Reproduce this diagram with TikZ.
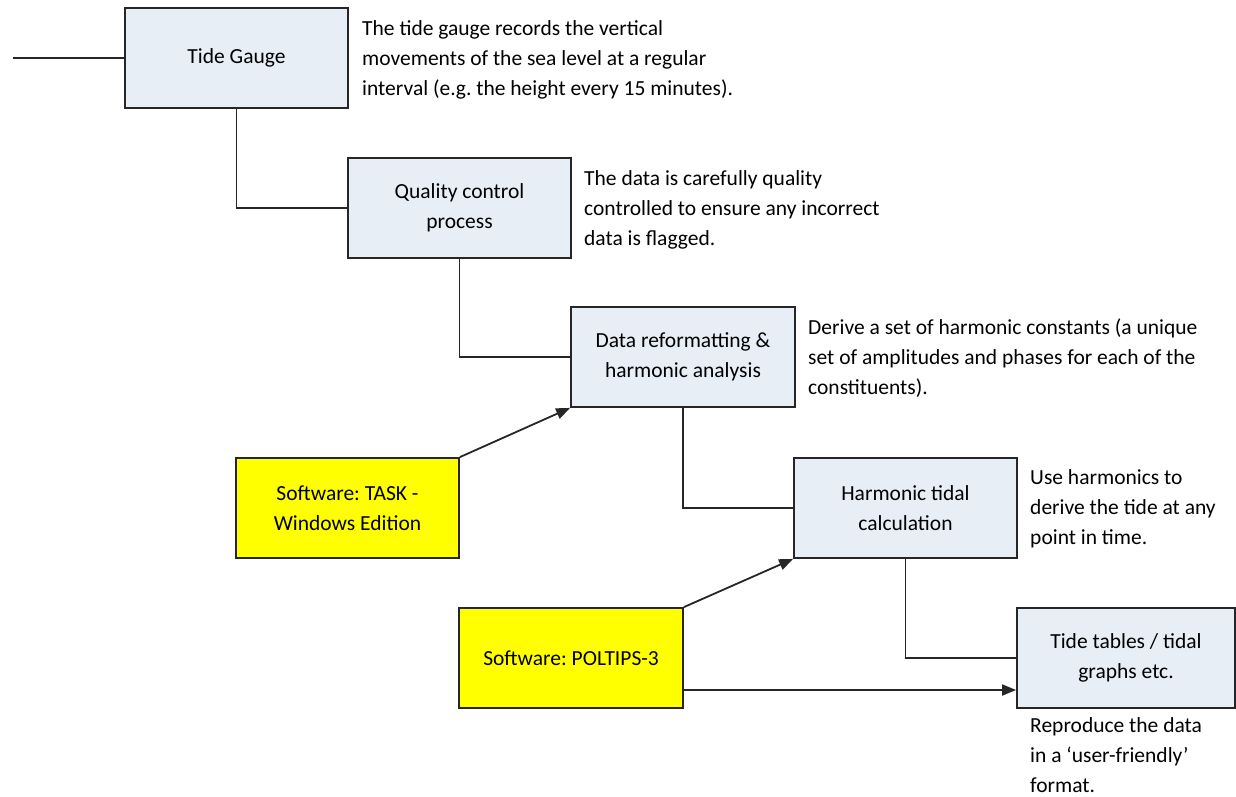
\documentclass[tikz,border=0pt]{standalone}
\usepackage{fontspec}
\setmainfont{Carlito}
\frenchspacing
\usetikzlibrary{arrows.meta}
\definecolor{boxblue}{HTML}{E7EEF6}
\definecolor{boxyellow}{HTML}{FFFF00}
\tikzset{
  procbox/.style={draw=black!85, line width=1.8pt, fill=boxblue, minimum width=223pt, minimum height=100pt, align=center, inner sep=0pt, font=\fontsize{21.5}{30}\selectfont},
  softbox/.style={procbox, fill=boxyellow},
  note/.style={anchor=north west, align=left, inner sep=0pt, font=\fontsize{21.5}{30}\selectfont},
  link/.style={draw=black!85, line width=1.8pt},
  arr/.style={link, -{Triangle[length=14pt,width=11pt]}}
}
\begin{document}
\frenchspacing
\begin{tikzpicture}[x=1pt,y=-1pt]
\useasboundingbox (0,0) rectangle (1236,796);
\node[procbox] (tg) at (236.5,58) {Tide Gauge};
\node[procbox] (qc) at (459.5,208) {Quality control\\process};
\node[procbox, minimum width=224pt] (dr) at (683,357) {Data reformatting \&\\harmonic analysis};
\node[procbox] (ht) at (905.5,508) {Harmonic tidal\\calculation};
\node[procbox, minimum width=218pt] (tt) at (1126,658) {Tide tables / tidal\\graphs etc.};
\node[softbox] (task) at (347.5,508) {Software: TASK -\\Windows Edition};
\node[softbox, minimum width=224pt] (pol) at (571,658) {Software: POLTIPS-3};
\coordinate (start) at (13,58);

\node[note] (n1) at (362,20) {The tide gauge records the vertical\\movements of the sea level at a regular\\interval (e.g. the height every 15 minutes).};
\node[note] (n2) at (584,170) {The data is carefully quality\\controlled to ensure any incorrect\\data is flagged.};
\node[note] (n3) at (808,319) {Derive a set of harmonic constants (a unique\\set of amplitudes and phases for each of the\\constituents).};
\node[note] (n4) at (1030,469) {Use harmonics to\\derive the tide at any\\point in time.};
\node[note] (n5) at (1030,717) {Reproduce the data\\in a ‘user-friendly’\\format.};

\draw[link] (start) -- (tg.west);
\draw[link] (tg.south) |- (qc.west);
\draw[link] (qc.south) |- (dr.west);
\draw[link] (dr.south) |- (ht.west);
\draw[link] (ht.south) |- (tt.west);
\draw[arr] (task.north east) -- (dr.south west);
\draw[arr] (pol.north east) -- (ht.south west);
\draw[arr] ([yshift=-32pt]pol.east) -- ([yshift=-32pt]tt.west);
\end{tikzpicture}
\end{document}
